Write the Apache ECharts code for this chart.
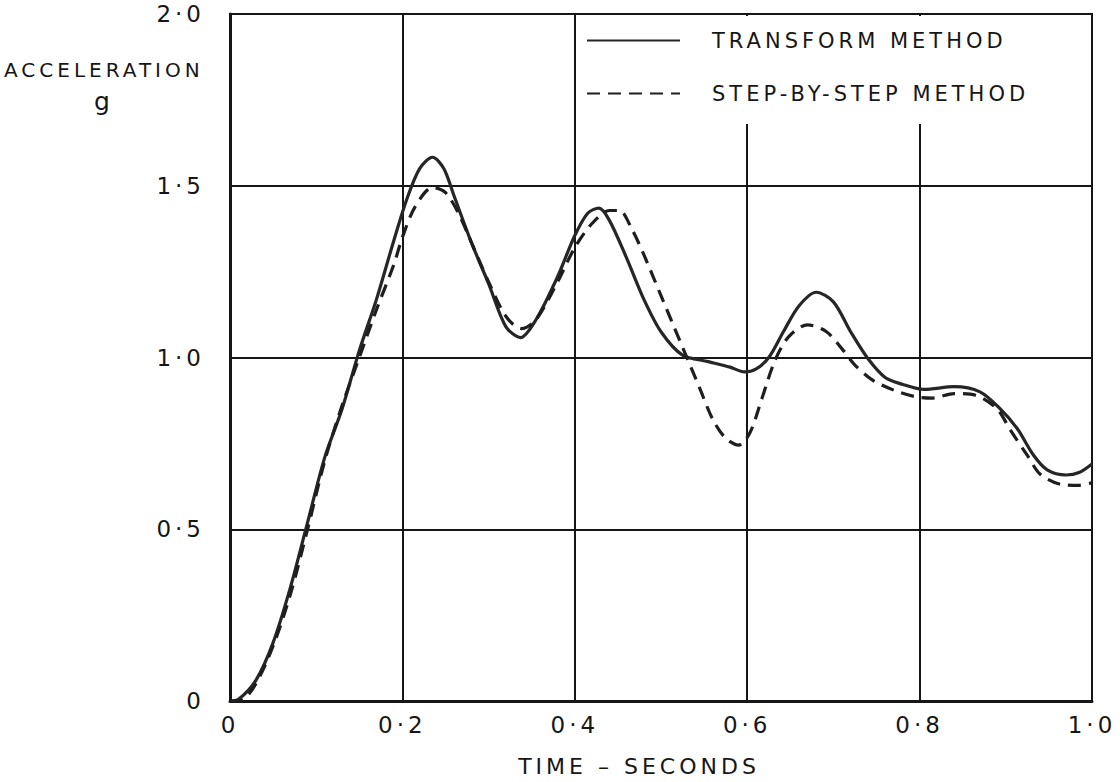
<!DOCTYPE html>
<html>
<head>
<meta charset="utf-8">
<script src="https://cdn.jsdelivr.net/npm/echarts@6/dist/echarts.min.js"></script>
<style>
  html, body { margin: 0; padding: 0; background: #fff; }
  #chart { width: 1120px; height: 782px; }
  #chart text { letter-spacing: 4px; }
</style>
</head>
<body>
<div id="chart"></div>
<script>
// ---- data ----
const transformT = [0,0.01,0.03,0.05,0.07,0.09,0.11,0.13,0.15,0.17,0.19,0.205,0.22,0.235,0.248,0.26,0.28,0.30,0.32,0.337,0.355,0.38,0.40,0.415,0.428,0.44,0.46,0.48,0.50,0.525,0.555,0.58,0.597,0.61,0.625,0.642,0.66,0.68,0.70,0.72,0.74,0.76,0.78,0.805,0.84,0.87,0.893,0.913,0.932,0.948,0.97,0.985,1.0];
const transformG = [0,0.005,0.06,0.17,0.33,0.52,0.71,0.85,1.02,1.17,1.34,1.46,1.55,1.583,1.55,1.47,1.335,1.215,1.09,1.058,1.11,1.235,1.355,1.42,1.435,1.40,1.29,1.17,1.075,1.007,0.988,0.972,0.958,0.966,1.0,1.075,1.15,1.19,1.162,1.075,0.997,0.942,0.922,0.907,0.915,0.90,0.852,0.794,0.716,0.673,0.658,0.665,0.69];

const stepT = [0,0.015,0.03,0.05,0.07,0.09,0.11,0.13,0.15,0.17,0.19,0.20,0.215,0.235,0.25,0.265,0.28,0.30,0.32,0.338,0.355,0.38,0.40,0.42,0.44,0.452,0.465,0.48,0.50,0.515,0.53,0.545,0.56,0.575,0.59,0.603,0.617,0.632,0.648,0.67,0.692,0.71,0.725,0.745,0.77,0.795,0.815,0.84,0.865,0.89,0.905,0.925,0.94,0.965,0.985,1.0];
const stepG = [0,0.005,0.05,0.16,0.31,0.50,0.70,0.86,1.0,1.14,1.27,1.35,1.44,1.495,1.48,1.42,1.335,1.22,1.12,1.084,1.11,1.22,1.32,1.39,1.428,1.428,1.38,1.30,1.18,1.09,1.0,0.91,0.82,0.765,0.745,0.78,0.88,0.99,1.06,1.095,1.075,1.025,0.978,0.935,0.905,0.886,0.882,0.895,0.89,0.85,0.79,0.715,0.66,0.63,0.628,0.635];

const seriesNames = ['TRANSFORM METHOD', 'STEP-BY-STEP METHOD'];
const xTicks = { min: 0, max: 1.0, interval: 0.2 };
const yTicks = { min: 0, max: 2.0, interval: 0.5 };
const xName = 'TIME \u2013 SECONDS';
const yName = 'ACCELERATION';
const yUnit = 'g';
// region of the plot blanked behind the key (data units)
const keyBox = { t0: 0.402, t1: 0.997, g0: 1.68, g1: 1.994 };

const zip = (a, b) => a.map((v, i) => [v, b[i]]);
const fmt = v => (v === 0 ? '0' : v.toFixed(1).replace('.', '\u00b7'));

const ink = '#161616';
const font = 'DejaVu Sans';

const chart = echarts.init(document.getElementById('chart'), null, { renderer: 'svg' });
chart.setOption({
  backgroundColor: '#ffffff',
  animation: false,
  grid: { left: 230, right: 28, top: 14, bottom: 79, show: true, borderColor: ink, borderWidth: 2, containLabel: false },
  xAxis: {
    type: 'value', min: xTicks.min, max: xTicks.max, interval: xTicks.interval,
    name: xName, nameLocation: 'middle', nameGap: 54,
    nameTextStyle: { fontFamily: font, fontSize: 22, color: ink, padding: [0, 44, 0, 0] },
    axisLine: { show: true, lineStyle: { color: ink, width: 3 } },
    axisTick: { show: false },
    axisLabel: { formatter: fmt, fontFamily: font, fontSize: 23, color: ink, margin: 12 },
    splitLine: { show: true, lineStyle: { color: ink, width: 2 } }
  },
  yAxis: {
    type: 'value', min: yTicks.min, max: yTicks.max, interval: yTicks.interval,
    axisLine: { show: true, lineStyle: { color: ink, width: 3 } },
    axisTick: { show: false },
    axisLabel: { formatter: fmt, fontFamily: font, fontSize: 23, color: ink, margin: 25 },
    splitLine: { show: true, lineStyle: { color: ink, width: 2 } }
  },
  legend: {
    orient: 'vertical', left: 581, top: 25, itemWidth: 93, itemHeight: 14, itemGap: 32,
    itemStyle: { color: 'rgba(0,0,0,0)', borderWidth: 0, opacity: 0 },
    textStyle: { fontFamily: font, fontSize: 21, color: ink, padding: [0, 0, 0, 27] },
    data: seriesNames
  },
  graphic: [
    { type: 'text', left: 4, top: 60, style: { text: yName, font: '20px "DejaVu Sans"', fill: ink } },
    { type: 'text', left: 94, top: 89, style: { text: yUnit, font: '25px "DejaVu Sans"', fill: ink } }
  ],
  series: [
    {
      name: seriesNames[0], type: 'line', data: zip(transformT, transformG),
      smooth: 0.3, symbol: 'none', z: 3,
      lineStyle: { color: '#262626', width: 3.2, type: 'solid' },
      itemStyle: { color: '#262626' }
    },
    {
      name: seriesNames[1], type: 'line', data: zip(stepT, stepG),
      smooth: 0.3, symbol: 'none', z: 3,
      lineStyle: { color: '#1e1e1e', width: 3.2, type: [13, 8] },
      itemStyle: { color: '#1e1e1e' },
      markArea: {
        silent: true,
        itemStyle: { color: '#ffffff', borderWidth: 0 },
        data: [[{ xAxis: keyBox.t0, yAxis: keyBox.g0 }, { xAxis: keyBox.t1, yAxis: keyBox.g1 }]]
      }
    }
  ]
});
</script>
</body>
</html>
